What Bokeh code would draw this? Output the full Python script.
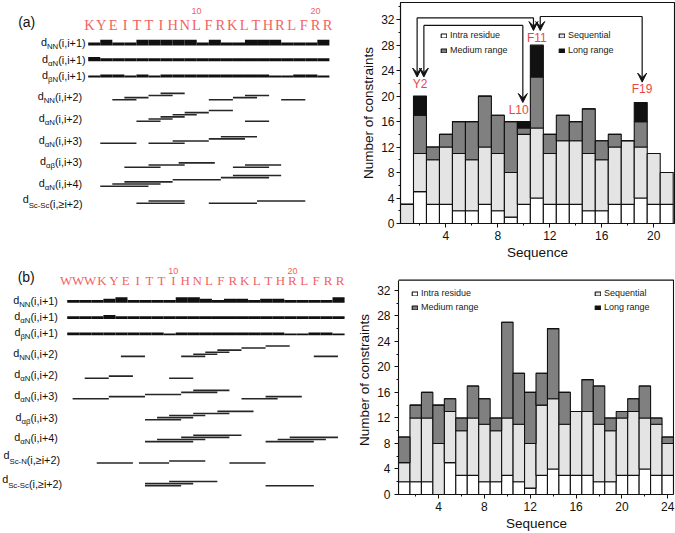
from bokeh.plotting import figure
from bokeh.layouts import row, column
from bokeh.models import (Range1d, ColumnDataSource, Legend, LegendItem, Arrow, VeeHead,
                          SingleIntervalTicker, LabelSet)
from bokeh.embed import file_html
from bokeh.resources import INLINE
from bokeh.core.properties import value

# ---------------------------------------------------------------- data
SEQ_A = list("KYEITTIHNLFRKLTHRLFRR")
SEQ_B = list("WWWKYEITTIHNLFRKLTHRLFRR")

# stacked bars, panel (a): residues 1..21
res_a = list(range(1, 22))
intra_a = [0, 5, 3, 3, 2, 2, 3, 2, 1, 3, 4, 3, 3, 3, 2, 2, 3, 3, 4, 3, 3]
seq_a = [3, 6, 7, 9, 9, 8, 9, 9, 7, 11, 11, 8, 10, 10, 9, 8, 9, 10, 8, 8, 5]
med_a = [0, 6, 2, 2, 5, 6, 8, 6, 8, 1, 8, 3, 4, 3, 7, 3, 2, 0, 4, 0, 0]
long_a = [0, 3, 0, 0, 0, 0, 0, 0, 0, 1, 5, 0, 0, 0, 0, 0, 0, 0, 3, 0, 0]

# stacked bars, panel (b): residues 1..24
res_b = list(range(1, 25))
intra_b = [2, 2, 2, 0, 5, 3, 3, 2, 2, 3, 2, 1, 3, 4, 3, 3, 3, 2, 2, 3, 3, 4, 3, 3]
seq_b = [3, 10, 10, 8, 8, 7, 9, 9, 8, 9, 9, 7, 11, 11, 8, 10, 10, 9, 8, 9, 10, 8, 8, 5]
med_b = [4, 2, 4, 6, 2, 2, 5, 4, 2, 15, 8, 8, 5, 11, 5, 0, 5, 6, 2, 1, 2, 5, 1, 1]
long_b = [0] * 24

LEGEND_NAMES = ["Intra residue", "Sequential", "Medium range", "Long range"]
TICK_STEP = 4

# long-range contacts in panel (a)
ANN_RES = [2, 10, 11, 19]
ANN_TXT = ["Y2", "L10", "F11", "F19"]
LINKS = [(2, 11), (2, 10), (11, 19)]

# sequential NOE strengths (1 weak .. 4 strong) for each i -> i+1 step
NN_I1_A = [2, 4, 2, 2, 4, 4, 4, 4, 4, 2, 4, 2, 2, 4, 4, 4, 2, 2, 2, 4]
AN_I1_A = [3] + [2] * 19
BN_I1_A = [1, 2, 2, 1, 2, 1, 2, 2, 2, 2, 2, 2, 2, 2, 2, 1, 1, 2, 2, 1]
NN_I1_B = [2, 2, 2, 3, 4, 2, 2, 2, 2, 4, 4, 3, 2, 3, 3, 2, 3, 3, 2, 2, 2, 2, 4]
AN_I1_B = [2, 2, 2, 3] + [2] * 19
BN_I1_B = [2] * 8 + [1] + [2] * 9 + [1, 1] + [2, 2] + [1]

# medium / long range connectivities (from residue, to residue)
NN_I2_A = [(3, 5), (4, 6), (6, 8), (7, 9), (11, 13), (13, 15), (14, 16), (17, 19)]
AN_I2_A = [(5, 7), (6, 8), (7, 9), (8, 10), (9, 11), (11, 13), (14, 16)]
AN_I3_A = [(2, 5), (6, 9), (8, 11), (11, 14), (12, 15)]
AB_I3_A = [(4, 7), (6, 9), (8.5, 11.5), (13, 16), (14, 17)]
AN_I4_A = [(2, 6), (3, 7), (4, 8), (8, 12), (12, 16), (13, 17)]
SCSC_A = [(5, 9), (6, 9), (11, 15), (15, 19)]

NN_I2_B = [(5, 7), (10, 12), (11, 13), (12, 14), (13, 15), (15, 17), (17, 19), (21, 23)]
AN_I2_B = [(2, 4), (4, 6), (9, 11)]
AN_I3_B = [(1, 4), (4, 7), (7, 10), (10, 13), (11, 14), (15, 18), (17, 20)]
AB_I3_B = [(7, 10), (8, 11), (9, 12), (11, 14), (13, 16)]
AN_I4_B = [(7, 11), (8, 12), (10, 14), (11, 15), (17, 21), (18, 22), (19, 23)]
SCN_B = [(3, 6), (6.5, 9), (9, 12), (14, 17)]
SCSC_B = [(7, 10), (7, 11), (9, 13), (17, 21)]

# ---------------------------------------------------------------- style / layout
LW, RW = 350, 325
TH, BH = 265, 268
BORDERS_A = (50, 1, 2, 42)     # left, right, top, bottom of the (a) chart frame
BORDERS_B = (48, 1, 0, 33)     # (b) chart: box top is drawn inside an enlarged frame
YMAX_A = 34.7
YBOX_B = 33.6                  # top of the drawn box in panel (b)
YMAX_B = 35.89                 # frame top in panel (b) (15 px above the box)
XMAX_B = 24.587
RED = "#ef4444"
SEQRED = "#f26262"
FONTNAME = "Liberation Sans"
FONT = value(FONTNAME)
SERIFNAME = "Liberation Serif"
BAR_COLORS = ["#ffffff", "#e4e4e4", "#808080", "#111111"]
STRENGTH_H = {1: 2.0, 2: 3.0, 3: 4.2, 4: 5.8}
LEVEL_STEP = 2.15
EM = {'d': .556, 'N': .722, 'α': .578, 'β': .575, 'S': .667, 'c': .5, '-': .333,
      '(': .333, ')': .333, 'i': .222, ',': .278, '+': .584, '≥': .549, ' ': .278}
FB, FS = 10.8, 7.8


def tw(s, size):
    return sum(EM.get(ch, .556) for ch in s) * size


def label_set(src, font, size, color, align="center", baseline="middle"):
    kw = dict(x="x", y="y", text="text", source=ColumnDataSource(src),
              text_font_size=size, text_color=color, text_align=align,
              text_baseline=baseline)
    try:
        return LabelSet(text_font=value(font), **kw)
    except ValueError:
        return LabelSet(text_font=font, **kw)


def left_fig(xr, yr, h, borders):
    p = figure(width=LW, height=h, x_range=Range1d(*xr), y_range=Range1d(*yr),
               output_backend="svg", toolbar_location=None, x_axis_type=None,
               y_axis_type=None, min_border_left=0, min_border_right=0,
               min_border_top=borders[2], min_border_bottom=borders[3],
               outline_line_color=None)
    return p


def draw_seq_row(p, strengths, base):
    left = [i + 1 for i in range(len(strengths))]
    right = [i + 2 for i in range(len(strengths))]
    top = [base - STRENGTH_H[s] for s in strengths]
    p.quad(left=left, right=right, bottom=[base] * len(strengths), top=top,
           fill_color="#111111", line_color=None)


def draw_segments(p, segs, y0, shift):
    x0, x1, ys = [], [], []
    level, prev_end = 0, None
    for s, e in segs:
        level = level + 1 if (prev_end is not None and s <= prev_end) else 0
        prev_end = e
        x0.append(s + shift)
        x1.append(e + shift)
        ys.append(y0 - level * LEVEL_STEP)
    p.segment(x0=x0, y0=ys, x1=x1, y1=ys, line_color="#262626", line_width=1.6)


def draw_labels(p, rows):
    # rows: (subscript, rest, y, right_offset_px, raised)
    big = dict(x=[], y=[], text=[], xo=[], yo=[])
    small = dict(x=[], y=[], text=[], xo=[], yo=[])
    for sub, rest, y, roff, raised in rows:
        wd, wsub, wr = tw("d", FB), tw(sub, FS), tw(rest, FB)
        start = roff - (wd + wsub + wr)
        big["x"] += [1, 1]
        big["y"] += [y, y]
        big["text"] += ["d", rest]
        big["xo"] += [start, start + wd + wsub]
        big["yo"] += [-3 if raised else -1, 2 if raised else 0]
        small["x"].append(1)
        small["y"].append(y)
        small["text"].append(sub)
        small["xo"].append(start + wd)
        small["yo"].append(3.5)
    p.text(x="x", y="y", text="text", x_offset="xo", y_offset="yo",
           source=ColumnDataSource(big), text_font=FONT, text_font_size=f"{FB}px",
           text_align="left", text_baseline="middle", text_color="#111111")
    p.text(x="x", y="y", text="text", x_offset="xo", y_offset="yo",
           source=ColumnDataSource(small), text_font=FONT, text_font_size=f"{FS}px",
           text_align="left", text_baseline="middle", text_color="#111111")


def draw_sequence(p, seq, y, scale, shift, num_y, tag, tag_x, tag_y, size):
    xs = [1 + i * scale + shift for i in range(len(seq))]
    p.add_layout(label_set(dict(x=xs, y=[y] * len(seq), text=seq), SERIFNAME, size, SEQRED))
    nums = [n for n in (10, 20) if n <= len(seq)]
    p.add_layout(label_set(dict(x=[xs[n - 1] for n in nums], y=[num_y] * len(nums),
                                text=[str(n) for n in nums]), FONTNAME, "9px", SEQRED))
    p.add_layout(label_set(dict(x=[tag_x], y=[tag_y], text=[tag]), FONTNAME, "14px", "#111111"))


# ---------------- left (a): frame spans page y 2..223 (aligned with chart frame)
la = left_fig((-6.272, 22.75), (TH - BORDERS_A[3], BORDERS_A[2]), TH, BORDERS_A)
draw_sequence(la, SEQ_A, 24.0, 0.987, 0.1, 10.5, "(a)", -4.1, 21.0, "14.5px")
draw_seq_row(la, NN_I1_A, 45.0)
draw_seq_row(la, AN_I1_A, 60.7)
draw_seq_row(la, BN_I1_A, 77.0)
draw_segments(la, NN_I2_A, 99.3, 0)
draw_segments(la, AN_I2_A, 120.7, 0)
draw_segments(la, AN_I3_A, 142.7, 0)
draw_segments(la, AB_I3_A, 166.7, 0)
draw_segments(la, AN_I4_A, 185.7, 0)
draw_segments(la, SCSC_A, 202.7, 0)
draw_labels(la, [("NN", "(i,i+1)", 42.7, -2.7, False),
                 ("αN", "(i,i+1)", 59.3, -2.7, False),
                 ("βN", "(i,i+1)", 75.3, -2.7, False),
                 ("NN", "(i,i+2)", 96.5, -6.0, False),
                 ("αN", "(i,i+2)", 118.3, -6.0, False),
                 ("αN", "(i,i+3)", 140.0, -6.0, False),
                 ("αβ", "(i,i+3)", 161.5, -6.0, False),
                 ("αN", "(i,i+4)", 183.3, -6.0, False),
                 ("Sc-Sc", "(i,≥i+2)", 201.0, -5.5, True)])

# ---------------- left (b): frame spans page y 265..500
lb = left_fig((-4.531, 24.491), (TH + BH - BORDERS_B[3], TH + BORDERS_B[2]), BH, BORDERS_B)
SB = 0.45
draw_sequence(lb, SEQ_B, 280.0, 0.987, -0.08, 270.5, "(b)", -2.4, 277.0, "13px")
draw_seq_row(lb, NN_I1_B, 303.3)
draw_seq_row(lb, AN_I1_B, 320.0)
draw_seq_row(lb, BN_I1_B, 336.7)
draw_segments(lb, NN_I2_B, 358.3, SB)
draw_segments(lb, AN_I2_B, 380.7, SB)
draw_segments(lb, AN_I3_B, 401.7, SB)
draw_segments(lb, AB_I3_B, 423.3, SB)
draw_segments(lb, AN_I4_B, 445.7, SB)
draw_segments(lb, SCN_B, 467.7, SB)
draw_segments(lb, SCSC_B, 491.0, SB)
draw_labels(lb, [("NN", "(i,i+1)", 301.7, -9.4, False),
                 ("αN", "(i,i+1)", 318.3, -9.4, False),
                 ("βN", "(i,i+1)", 334.3, -9.4, False),
                 ("NN", "(i,i+2)", 356.0, -9.4, False),
                 ("αN", "(i,i+2)", 377.7, -9.4, False),
                 ("αN", "(i,i+3)", 399.0, -9.4, False),
                 ("αβ", "(i,i+3)", 421.0, -9.4, False),
                 ("αN", "(i,i+4)", 442.3, -9.4, False),
                 ("Sc-N", "(i,≥i+2)", 463.0, -7.2, True),
                 ("Sc-Sc", "(i,≥i+2)", 487.5, -5.0, True)])


# ---------------- bar charts
def bar_fig(res, intra, seq, med, lng, xr, yr, h, borders, leg_x, leg_y, leg_sp, tick_sd):
    src = ColumnDataSource(dict(res=res, intra=intra, seq=seq, med=med, lng=lng))
    bl, br, bt, bb = borders
    p = figure(width=RW, height=h, x_range=Range1d(*xr), y_range=Range1d(*yr),
               output_backend="svg", toolbar_location=None,
               min_border_left=bl, min_border_right=br, min_border_top=bt,
               min_border_bottom=bb)
    rs = p.vbar_stack(["intra", "seq", "med", "lng"], x="res", width=1.0, source=src,
                      fill_color=BAR_COLORS, line_color="#111111", line_width=1.1)
    p.xgrid.visible = False
    p.ygrid.visible = False
    p.outline_line_color = "#111111"
    p.outline_line_width = 1.1
    p.outline_line_alpha = 1.0
    for ax in (p.xaxis[0], p.yaxis[0]):
        ax.ticker = SingleIntervalTicker(interval=TICK_STEP, num_minor_ticks=2)
        ax.major_tick_in = 0
        ax.major_tick_out = 4
        ax.minor_tick_in = 0
        ax.minor_tick_out = 2
        ax.axis_line_color = "#111111"
        ax.axis_line_width = 1.1
        ax.major_tick_line_color = "#111111"
        ax.minor_tick_line_color = "#111111"
        ax.major_label_text_font = FONTNAME
        ax.major_label_text_font_size = "12px"
        ax.major_label_text_color = "#111111"
        ax.axis_label_text_font = FONTNAME
        ax.axis_label_text_font_size = "13.5px"
        ax.axis_label_text_font_style = "normal"
        ax.axis_label_text_color = "#111111"
        ax.axis_label_standoff = 2
    p.xaxis.axis_label = "Sequence"
    p.yaxis.axis_label = "Number of constraints"
    p.xaxis.major_label_standoff = 3
    p.yaxis.major_label_standoff = tick_sd
    for cols, lx in (((0, 2), leg_x[0]), ((1, 3), leg_x[1])):
        leg = Legend(items=[LegendItem(label=LEGEND_NAMES[c], renderers=[rs[c]]) for c in cols],
                     location=(lx, leg_y), orientation="vertical",
                     background_fill_alpha=0, border_line_alpha=0, padding=0, margin=0,
                     spacing=leg_sp, glyph_width=7, glyph_height=5, label_height=10,
                     label_standoff=3, label_text_font=FONTNAME, label_text_font_size="9px",
                     label_text_color="#222222")
        p.add_layout(leg)
    return p


ra = bar_fig(res_a, intra_a, seq_a, med_a, long_a, (0.5, 21.6), (0, YMAX_A), TH,
             BORDERS_A, (40, 158), 168, 5, 2)
rb = bar_fig(res_b, intra_b, seq_b, med_b, long_b, (0.5, XMAX_B), (0, YMAX_B), BH,
             BORDERS_B, (13, 196), 182, 4, 4)
# panel (b) box: top and right edges drawn explicitly, axes stop at the box
rb.outline_line_color = None
rb.yaxis.bounds = (0, YBOX_B)
rb.xaxis.bounds = (0.5, res_b[-1] + 0.5)
rb.line(x=[0.5, res_b[-1] + 0.5, res_b[-1] + 0.5], y=[YBOX_B, YBOX_B, 0],
        line_color="#111111", line_width=1.1)

# annotations on panel (a) chart
totals_a = [intra_a[i] + seq_a[i] + med_a[i] + long_a[i] for i in range(len(res_a))]
LABEL_LIFT = {2: 0.8, 10: 0.8, 11: 0.1, 19: 1.0}
LABEL_DX = {2: 0.0, 10: -0.4, 11: 0.0, 19: 0.1}
lab_y = {r: totals_a[r - 1] + LABEL_LIFT[r] for r in ANN_RES}
ra.text(x=[r + LABEL_DX[r] for r in ANN_RES], y=[lab_y[r] for r in ANN_RES], text=ANN_TXT,
        text_font=FONT, text_font_size="12px", text_align="center",
        text_baseline="bottom", text_color=RED)
LINK_GEOM = [(-0.22, -0.26, 32.3), (0.30, -0.08, 31.1), (0.26, 0.11, 32.5)]
for (r1, r2), (d1, d2, yh) in zip(LINKS, LINK_GEOM):
    xa, xb = r1 + d1, r2 + d2
    ra.line(x=[xa, xb], y=[yh, yh], line_color="#111111", line_width=1.2)
    for xx, rr in ((xa, r1), (xb, r2)):
        ra.add_layout(Arrow(x_start=xx, y_start=yh, x_end=xx, y_end=lab_y[rr] + 2.2,
                            line_color="#111111", line_width=1.2,
                            end=VeeHead(size=9, fill_color="#111111",
                                        line_color="#111111", line_width=1)))

layout = column(row(la, ra), row(lb, rb))
open("out.html", "w").write(file_html(layout, INLINE))
